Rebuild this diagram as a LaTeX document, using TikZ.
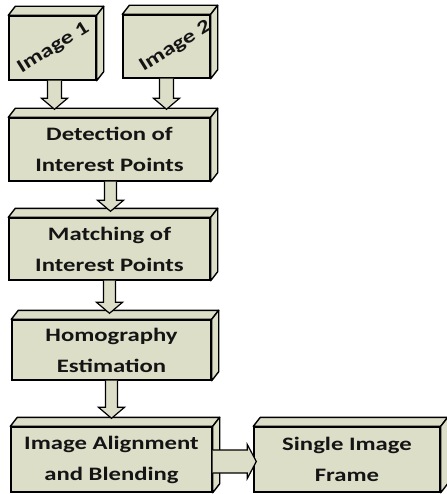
\documentclass[tikz,border=0pt]{standalone}
\usepackage{fontspec}
\setmainfont{Carlito}[FakeStretch=1.3]
\usetikzlibrary{calc}

\definecolor{boxfill}{RGB}{221,222,200}
\definecolor{ink}{RGB}{20,20,20}

\tikzset{
  cubefront/.style={draw=black, line width=1.4pt, fill=boxfill, inner sep=0pt,
    align=center, text=ink, font=\fontsize{19}{31}\selectfont\bfseries},
  cubeface/.style={draw=black, line width=1.4pt, fill=boxfill, line join=round},
  blockarrow/.style={draw=black, line width=1.2pt, fill=boxfill, line join=miter}
}

% tilted caption that takes no room in its node; #1 shifts it sideways
\newcommand\tilted[2]{\makebox[0pt]{\hspace*{#1}\rotatebox{32}{#2}}}

% top and right faces of a cube drawn behind a named front node
\newcommand\cubefaces[1]{%
  \draw[cubeface] (#1.north west) -- ++(7,-9) -- ([shift={(7,-9)}]#1.north east)
     -- (#1.north east) -- cycle;
  \draw[cubeface] (#1.north east) -- ++(7,-9) -- ([shift={(7,-9)}]#1.south east)
     -- (#1.south east) -- cycle;
}

% block arrow pointing down from #1 to #2 (shaft half width #3)
\newcommand\downblock[3]{%
  \draw[blockarrow] let \p1=(#1), \p2=(#2) in
    (\x1-#3,\y1) -- (\x1-#3,\y2+11pt) -- (\x1-13pt,\y2+11pt) -- (\x1,\y2)
    -- (\x1+13pt,\y2+11pt) -- (\x1+#3,\y2+11pt) -- (\x1+#3,\y1);
}

% block arrow pointing right from #1 to #2
\newcommand\rightblock[2]{%
  \draw[blockarrow] let \p1=(#1), \p2=(#2) in
    (\x1,\y1+11.5pt) -- (\x2-9pt,\y1+11.5pt) -- (\x2-9pt,\y1+17pt) -- (\x2,\y1)
    -- (\x2-9pt,\y1-17pt) -- (\x2-9pt,\y1-11.5pt) -- (\x1,\y1-11.5pt);
}

\begin{document}
\begin{tikzpicture}[x=1pt,y=-1pt]
  \useasboundingbox (0,0) rectangle (446,494);

  % front faces
  \node[cubefront, minimum width=87pt, minimum height=64pt] (img1) at (52.5,48)
    {\tilted{2pt}{Image 1}};
  \node[cubefront, minimum width=87pt, minimum height=63pt] (img2) at (166.5,46.5)
    {\tilted{18pt}{Image 2}};
  \node[cubefront, minimum width=201pt, minimum height=63pt] (det) at (109.5,149.5)
    {Detection of\\Interest Points};
  \node[cubefront, minimum width=201pt, minimum height=62pt] (match) at (109.5,249)
    {Matching of\\Interest Points};
  \node[cubefront, minimum width=199pt, minimum height=60pt] (homo) at (111.5,350)
    {Homography\\Estimation};
  \node[cubefront, minimum width=201pt, minimum height=65pt] (align) at (111.5,459.5)
    {Image Alignment\\and Blending};
  \node[cubefront, minimum width=186pt, minimum height=65pt] (single) at (347,459.5)
    {Single Image\\Frame};

  % depth faces
  \foreach \n in {img1,img2,det,match,homo,align,single} {\cubefaces{\n}}

  % arrow tips reach onto the top face of the next cube
  \coordinate (t1) at ([shift={(2,-8)}]img1.south |- det.north);
  \coordinate (t2) at ([shift={(0,-8)}]img2.south |- det.north);
  \coordinate (t3) at ([shift={(1,-6)}]det.south |- match.north);
  \coordinate (t4) at ([shift={(0,-6)}]match.south |- homo.north);
  \coordinate (t5) at ([shift={(0,-8)}]homo.south |- align.north);
  \coordinate (t6) at ([shift={(3,2)}]single.west);

  \downblock{[xshift=2pt]img1.south}{t1}{7pt}
  \downblock{img2.south}{t2}{7pt}
  \downblock{[xshift=1pt]det.south}{t3}{6pt}
  \downblock{match.south}{t4}{6pt}
  \downblock{homo.south}{t5}{6pt}
  \rightblock{[yshift=-2pt]align.east}{t6}
\end{tikzpicture}
\end{document}
